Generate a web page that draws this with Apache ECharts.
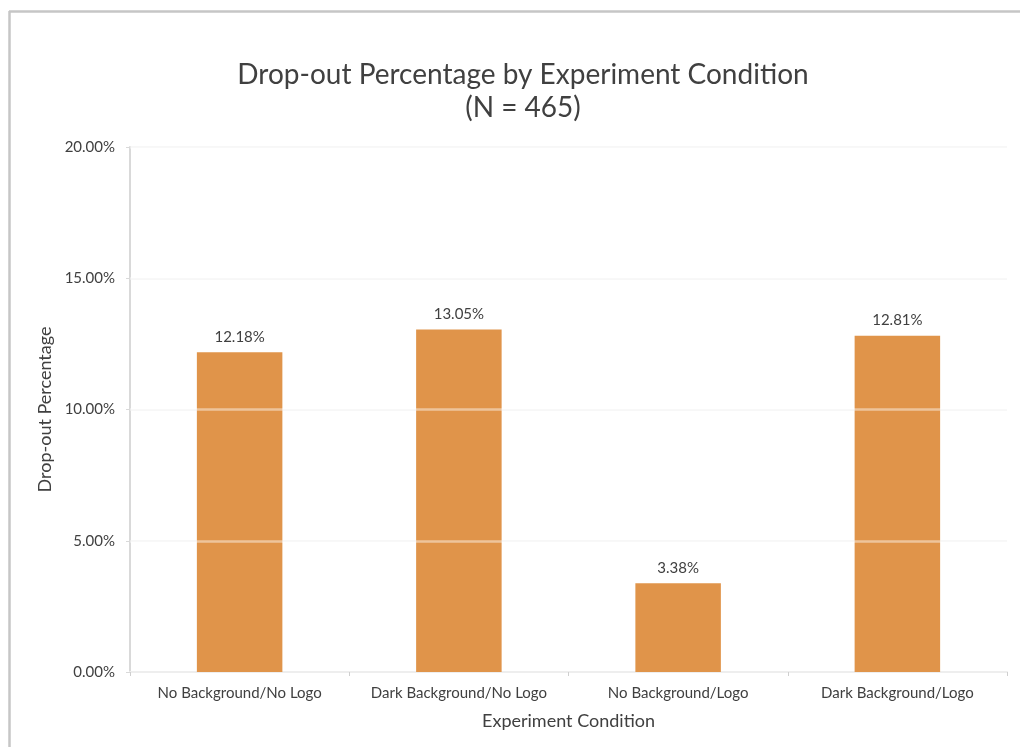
<!DOCTYPE html>
<html>
<head>
<meta charset="utf-8">
<style>
  html, body { margin: 0; padding: 0; background: #ffffff; }
  #chart { width: 1020px; height: 747px; }
</style>
<script src="https://cdn.jsdelivr.net/npm/echarts@6/dist/echarts.min.js"></script>
</head>
<body>
<div id="chart"></div>
<script>
// Experiment conditions and their drop-out rates (percent)
const categories = [
  'No Background/No Logo',
  'Dark Background/No Logo',
  'No Background/Logo',
  'Dark Background/Logo'
];
const dropoutPct = [12.18, 13.05, 3.38, 12.81];
const gridValues = [5, 10, 15, 20];

const FONT = 'Lato, "Open Sans", sans-serif';
const TEXT = '#404040';
const FRAME = '#c6c6c6';

const chart = echarts.init(document.getElementById('chart'), null, { renderer: 'canvas' });

chart.setOption({
  backgroundColor: '#ffffff',
  animation: false,
  title: {
    text: 'Drop-out Percentage by Experiment Condition\n(N = 465)',
    left: 518,
    top: 53,
    textAlign: 'center',
    textStyle: {
      fontFamily: FONT,
      fontSize: 28,
      fontWeight: 'normal',
      color: TEXT,
      lineHeight: 33
    }
  },
  // frame of the chart area (left and top edges)
  graphic: [
    { type: 'line', silent: true, shape: { x1: 9.5, y1: 11, x2: 9.5, y2: 747 },
      style: { stroke: FRAME, lineWidth: 2.5 } },
    { type: 'line', silent: true, shape: { x1: 9, y1: 11.5, x2: 1020, y2: 11.5 },
      style: { stroke: FRAME, lineWidth: 2.5 } }
  ],
  grid: { left: 130, right: 13, top: 147, bottom: 75, containLabel: false },
  xAxis: {
    type: 'category',
    data: categories,
    name: 'Experiment Condition',
    nameLocation: 'middle',
    nameGap: 40,
    nameTextStyle: { fontFamily: FONT, fontSize: 18, color: TEXT },
    axisLine: { show: true, lineStyle: { color: '#eeeeee', width: 2 } },
    axisTick: { show: true, length: 4, lineStyle: { color: '#cfcfcf' } },
    axisLabel: { interval: 0, fontFamily: FONT, fontSize: 15, color: TEXT, margin: 14 }
  },
  yAxis: {
    type: 'value',
    min: 0,
    max: 20,
    interval: 5,
    name: 'Drop-out Percentage',
    nameLocation: 'middle',
    nameRotate: 90,
    nameGap: 74,
    nameTextStyle: { fontFamily: FONT, fontSize: 18, color: TEXT },
    axisLine: { show: true, lineStyle: { color: '#d9d9d9', width: 2 } },
    axisTick: { show: true, length: 4, lineStyle: { color: '#d9d9d9' } },
    axisLabel: {
      fontFamily: FONT, fontSize: 15, color: TEXT, margin: 15,
      formatter: v => v.toFixed(2) + '%'
    },
    splitLine: { show: true, lineStyle: { color: '#f3f3f3', width: 2 } }
  },
  series: [{
    type: 'bar',
    data: dropoutPct,
    barWidth: '39%',
    itemStyle: { color: '#E0944A' },
    label: {
      show: true,
      position: 'top',
      distance: 8,
      fontFamily: FONT,
      fontSize: 15,
      color: TEXT,
      formatter: p => p.value.toFixed(2) + '%'
    },
    // gridlines that stay visible across the bars
    markLine: {
      silent: true,
      symbol: 'none',
      label: { show: false },
      lineStyle: { color: 'rgba(255,255,255,0.45)', type: 'solid', width: 2.5 },
      data: gridValues.map(v => ({ yAxis: v }))
    }
  }]
});
</script>
</body>
</html>
